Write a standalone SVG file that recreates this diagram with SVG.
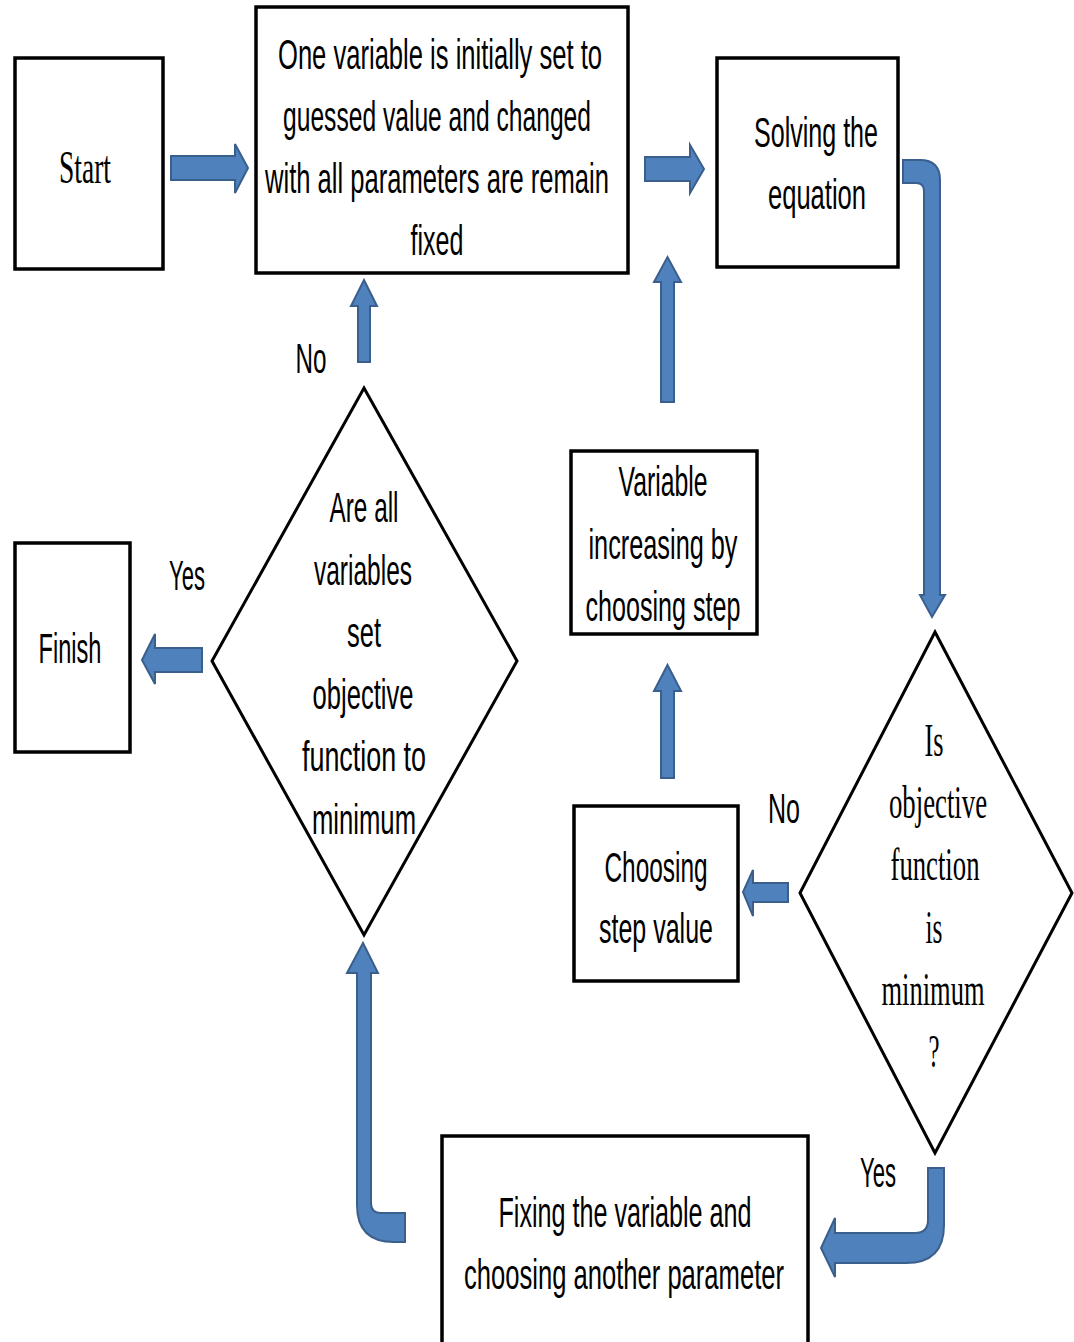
<svg xmlns="http://www.w3.org/2000/svg" width="1074" height="1342" viewBox="0 0 1074 1342">
<style>
.box{fill:#fff;stroke:#000;stroke-width:3.5}
.dia{fill:#fff;stroke:#000;stroke-width:3}
.arr{fill:#4F81BD;stroke:#3A5F8C;stroke-width:2;stroke-linejoin:miter}
.t{font-family:"Liberation Sans",Arial,sans-serif;font-size:43px;fill:#000;text-anchor:middle}
.s{font-family:"Liberation Serif","Times New Roman",serif;font-size:47px;fill:#000;text-anchor:middle}
</style>
<rect width="1074" height="1342" fill="#fff"/>
<g id="connectors">
<path class="arr" d="M171,156 H235 V144 L248,168 L235,193 V180 H171 Z"/>
<path class="arr" d="M645,157 H690 V145 L704,169 L690,193 V181 H645 Z"/>
<path class="arr" d="M903,160 H920 Q940,160 940,180 V595 H945 L932,617 L920,595 H924 V191 Q924,183 916,183 H903 Z"/>
<path class="arr" d="M788,883 H753 V870 L743,892 L753,916 V902 H788 Z"/>
<path class="arr" d="M202,648 H155 V634 L142,660 L155,684 V672 H202 Z"/>
<path class="arr" d="M661,402 V282 H654 L667.5,257 L681,282 H674 V402 Z"/>
<path class="arr" d="M358,362 V306 H351 L364,280 L377,306 H370 V362 Z"/>
<path class="arr" d="M661,778 V691 H654 L667.5,665 L681,691 H674 V778 Z"/>
<path class="arr" d="M357,973 H347 L363,943 L378,973 H371 V1203 Q371,1213 381,1213 H405 V1242 H394 Q357,1242 357,1205 Z"/>
<path class="arr" d="M928,1168 H944 V1225 Q944,1263 906,1263 H835 V1277 L821,1248 L835,1218 V1233 H915 Q928,1233 928,1220 Z"/>
</g>
<g id="start">
<rect class="box" x="15" y="58" width="148" height="211"/>
<text class="s" x="85" y="183" textLength="52" lengthAdjust="spacingAndGlyphs">Start</text>
</g>
<g id="init">
<rect class="box" x="256" y="7" width="372" height="266"/>
<text class="t" x="440" y="69" textLength="324" lengthAdjust="spacingAndGlyphs">One variable is initially  set to</text>
<text class="t" x="437" y="131" textLength="308" lengthAdjust="spacingAndGlyphs">guessed value and changed</text>
<text class="t" x="437" y="193" textLength="344" lengthAdjust="spacingAndGlyphs">with all parameters are remain</text>
<text class="t" x="437" y="255" textLength="53" lengthAdjust="spacingAndGlyphs">fixed</text>
</g>
<g id="solve">
<rect class="box" x="717" y="58" width="181" height="209"/>
<text class="t" x="816" y="147" textLength="124" lengthAdjust="spacingAndGlyphs">Solving the</text>
<text class="t" x="817" y="209" textLength="98" lengthAdjust="spacingAndGlyphs">equation</text>
</g>
<g id="finish">
<rect class="box" x="15" y="543" width="115" height="209"/>
<text class="t" x="70" y="663" textLength="63" lengthAdjust="spacingAndGlyphs">Finish</text>
</g>
<g id="varinc">
<rect class="box" x="571" y="451" width="186" height="183"/>
<text class="t" x="663" y="496" textLength="89" lengthAdjust="spacingAndGlyphs">Variable</text>
<text class="t" x="663" y="559" textLength="149" lengthAdjust="spacingAndGlyphs">increasing by</text>
<text class="t" x="663" y="621" textLength="155" lengthAdjust="spacingAndGlyphs">choosing step</text>
</g>
<g id="choosestep">
<rect class="box" x="574" y="806" width="164" height="175"/>
<text class="t" x="656" y="882" textLength="103" lengthAdjust="spacingAndGlyphs">Choosing</text>
<text class="t" x="656" y="943" textLength="114" lengthAdjust="spacingAndGlyphs">step value</text>
</g>
<g id="fixing">
<path class="box" d="M442,1350 V1136 H808 V1350"/>
<text class="t" x="625" y="1227" textLength="253" lengthAdjust="spacingAndGlyphs">Fixing the variable and</text>
<text class="t" x="624" y="1289" textLength="320" lengthAdjust="spacingAndGlyphs">choosing another parameter</text>
</g>
<g id="decision-all">
<polygon class="dia" points="364,388 517,661 364,935 212,661"/>
<text class="t" x="364" y="522" textLength="69" lengthAdjust="spacingAndGlyphs">Are all</text>
<text class="t" x="363" y="585" textLength="98" lengthAdjust="spacingAndGlyphs">variables</text>
<text class="t" x="364" y="647" textLength="34" lengthAdjust="spacingAndGlyphs">set</text>
<text class="t" x="363" y="709" textLength="101" lengthAdjust="spacingAndGlyphs">objective</text>
<text class="t" x="364" y="771" textLength="124" lengthAdjust="spacingAndGlyphs">function to</text>
<text class="t" x="364" y="834" textLength="104" lengthAdjust="spacingAndGlyphs">minimum</text>
</g>
<g id="decision-min">
<polygon class="dia" points="935,632 1072,893 935,1153 800,893"/>
<text class="s" x="934" y="756" textLength="19" lengthAdjust="spacingAndGlyphs">Is</text>
<text class="s" x="938" y="818" textLength="98" lengthAdjust="spacingAndGlyphs">objective</text>
<text class="s" x="935" y="880" textLength="89" lengthAdjust="spacingAndGlyphs">function</text>
<text class="s" x="934" y="943" textLength="17" lengthAdjust="spacingAndGlyphs">is</text>
<text class="s" x="933" y="1005" textLength="103" lengthAdjust="spacingAndGlyphs">minimum</text>
<text class="s" x="934" y="1067" textLength="11" lengthAdjust="spacingAndGlyphs">?</text>
</g>
<g id="labels">
<text class="t" x="311" y="373" textLength="31" lengthAdjust="spacingAndGlyphs">No</text>
<text class="t" x="187" y="590" textLength="36" lengthAdjust="spacingAndGlyphs">Yes</text>
<text class="t" x="784" y="823" textLength="32" lengthAdjust="spacingAndGlyphs">No</text>
<text class="t" x="878" y="1187" textLength="36" lengthAdjust="spacingAndGlyphs">Yes</text>
</g>
</svg>
